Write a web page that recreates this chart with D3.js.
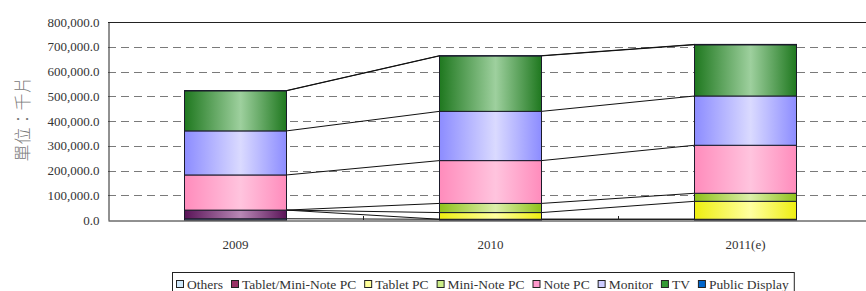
<!DOCTYPE html>
<html>
<head>
<meta charset="utf-8">
<script src="https://cdn.jsdelivr.net/npm/d3@7"></script>
<style>
  html, body { margin: 0; padding: 0; background: #fff; }
  svg { display: block; }
  .serif { font-family: "Liberation Serif", "DejaVu Serif", serif; }
</style>
</head>
<body>
<svg id="chart" width="866" height="291"></svg>
<script>
// ---- Data (thousand units) ----
const years = ["2009", "2010", "2011(e)"];
const seriesNames = ["Others", "Tablet/Mini-Note PC", "Tablet PC", "Mini-Note PC", "Note PC", "Monitor", "TV", "Public Display"];
const others        = [5000, 3000, 3000];
const tabletMini    = [35000, 0, 0];
const tabletPC      = [0, 27000, 72500];
const miniNote      = [0, 37000, 32500];
const notePC        = [142000, 173000, 194000];
const monitor       = [178000, 199000, 199000];
const tv            = [162000, 224000, 207000];
const publicDisplay = [1000, 1000, 1500];
const yTicks = [0, 100000, 200000, 300000, 400000, 500000, 600000, 700000, 800000];
const yLabel = "單位：千片";

const seriesValues = [others, tabletMini, tabletPC, miniNote, notePC, monitor, tv, publicDisplay];

// colours: [edge, center, legend]
const palette = [
  ["#a9d4f0", "#e4f3ff", "#cfe8fa"],
  ["#5a1458", "#b888b6", "#993366"],
  ["#eeee10", "#ffffa0", "#ffff99"],
  ["#8fc21a", "#dcefaa", "#ccee88"],
  ["#ff8cbc", "#ffc4de", "#ff99cc"],
  ["#8c8cff", "#dadaff", "#ccccff"],
  ["#1f781f", "#9ed09e", "#339933"],
  ["#0a50b0", "#4a8ee0", "#0066cc"]
];

const table = years.map((y, i) => {
  const row = { year: y };
  seriesNames.forEach((s, k) => row[s] = seriesValues[k][i]);
  return row;
});

const svg = d3.select("#chart");
const margin = { left: 108, top: 22, bottom: 220 };
const plotRight = 873;

const x = d3.scaleBand().domain(years).range([margin.left, plotRight]).padding(0);
const y = d3.scaleLinear().domain([0, 800000]).range([margin.bottom, margin.top]);
const barW = x.bandwidth() * 0.4;
const barX = d => x(d) + (x.bandwidth() - barW) / 2;

// gradients
const defs = svg.append("defs");
palette.forEach((p, k) => {
  const g = defs.append("linearGradient").attr("id", "g" + k)
    .attr("x1", "0%").attr("x2", "100%").attr("y1", "0%").attr("y2", "0%");
  g.append("stop").attr("offset", "0%").attr("stop-color", p[0]);
  g.append("stop").attr("offset", "55%").attr("stop-color", p[1]);
  g.append("stop").attr("offset", "100%").attr("stop-color", p[0]);
});

// gridlines
svg.append("g")
  .selectAll("line").data(yTicks.filter(t => t > 0 && t < 800000))
  .join("line")
  .attr("x1", margin.left).attr("x2", plotRight)
  .attr("y1", d => Math.round(y(d)) + 0.5).attr("y2", d => Math.round(y(d)) + 0.5)
  .attr("stroke", "#7a7a7a").attr("stroke-width", 1)
  .attr("stroke-dasharray", "8,5");

// frame: top line
svg.append("line").attr("x1", margin.left).attr("x2", plotRight)
  .attr("y1", Math.round(y(800000)) + 0.5).attr("y2", Math.round(y(800000)) + 0.5)
  .attr("stroke", "#222");

// y axis
const yAxis = d3.axisLeft(y).tickValues(yTicks).tickSize(0).tickPadding(9)
  .tickFormat(d => d3.format(",.1f")(d));
const gy = svg.append("g").attr("transform", `translate(${margin.left + 0.5},0)`).call(yAxis);
gy.attr("font-family", null).attr("font-size", null);
gy.select(".domain").attr("stroke", "#222");
gy.selectAll("text").attr("class", "serif")
  .style("font-family", '"Liberation Serif", "DejaVu Serif", serif')
  .style("font-size", "13px").attr("fill", "#333");

// stacked data
const stack = d3.stack().keys(seriesNames);
const stacked = stack(table);

// connector lines between bars (series lines)
const conn = svg.append("g");
stacked.forEach((layer) => {
  for (let i = 0; i < years.length - 1; i++) {
    conn.append("line")
      .attr("x1", barX(years[i]) + barW).attr("y1", y(layer[i][1]))
      .attr("x2", barX(years[i + 1])).attr("y2", y(layer[i + 1][1]))
      .attr("stroke", "#111").attr("stroke-width", 1);
  }
});

// bars
const bars = svg.append("g");
stacked.forEach((layer, k) => {
  bars.append("g").selectAll("rect")
    .data(layer.filter(d => d[1] - d[0] > 0))
    .join("rect")
    .attr("x", d => barX(d.data.year))
    .attr("width", barW)
    .attr("y", d => y(d[1]))
    .attr("height", d => y(d[0]) - y(d[1]))
    .attr("fill", `url(#g${k})`)
    .attr("stroke", "#1a1a2a").attr("stroke-width", 1);
});

// x axis
const xAxis = d3.axisBottom(x).tickSize(0).tickPadding(19);
const gx = svg.append("g").attr("transform", `translate(0,${margin.bottom + 0.5})`).call(xAxis);
gx.attr("font-family", null).attr("font-size", null);
gx.select(".domain").attr("stroke", "#222");
gx.selectAll("text")
  .style("font-family", '"Liberation Serif", "DejaVu Serif", serif')
  .style("font-size", "13px").attr("fill", "#333");
// category boundary ticks
svg.append("g").selectAll("line").data(years.slice(1))
  .join("line")
  .attr("x1", d => x(d) + 0.5).attr("x2", d => x(d) + 0.5)
  .attr("y1", margin.bottom).attr("y2", margin.bottom - 4)
  .attr("stroke", "#222");

// y label
svg.append("text")
  .attr("transform", `translate(29,${(margin.top + margin.bottom) / 2 - 2}) rotate(-90)`)
  .attr("text-anchor", "middle")
  .style("font-family", '"Noto Sans CJK TC", "Noto Sans CJK SC", sans-serif')
  .style("font-size", "17px").style("font-weight", "300").attr("fill", "#777")
  .text(yLabel);

// legend
const lg = svg.append("g");
const lgText = lg.append("g");
let cx = 176;
seriesNames.forEach((s, k) => {
  const gItem = lgText.append("g");
  gItem.append("rect").attr("x", cx + 0.5).attr("y", 280.5).attr("width", 7).attr("height", 7)
    .attr("fill", palette[k][2]).attr("stroke", "#222");
  const t = gItem.append("text").attr("x", cx + 11).attr("y", 289)
    .style("font-family", '"Liberation Serif", "DejaVu Serif", serif')
    .style("font-size", "13.5px").attr("fill", "#333")
    .text(s);
  const w = t.node().getComputedTextLength();
  cx += 11 + w + 8;
});
lg.insert("rect", ":first-child")
  .attr("x", 172.5).attr("y", 272.5).attr("width", cx - 172 - 3).attr("height", 30)
  .attr("fill", "#fff").attr("stroke", "#222");
</script>
</body>
</html>
